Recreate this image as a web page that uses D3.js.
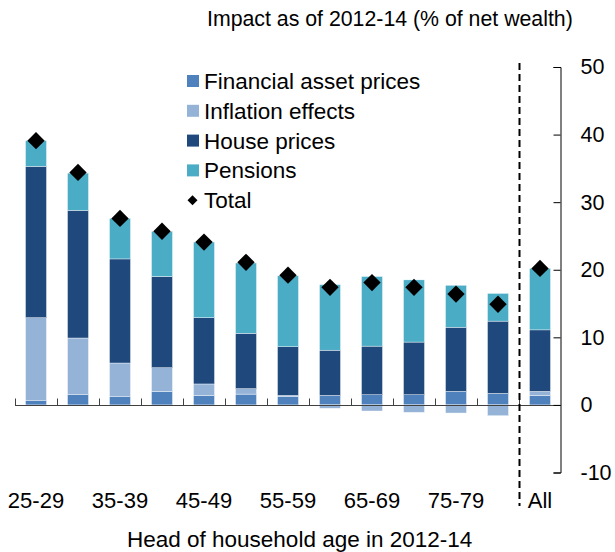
<!DOCTYPE html>
<html>
<head>
<meta charset="utf-8">
<script src="https://cdn.jsdelivr.net/npm/d3@7"></script>
<style>
  body { margin: 0; background: #fff; }
  svg { display: block; font-family: "Liberation Sans", Arial, sans-serif; }
</style>
</head>
<body>
<svg width="615" height="552"></svg>
<script>
// values (% of net wealth)
var categories = ["25-29", "30-34", "35-39", "40-44", "45-49", "50-54", "55-59",
                  "60-64", "65-69", "70-74", "75-79", "80+", "All"];
var shownLabels = ["25-29", "35-39", "45-49", "55-59", "65-69", "75-79", "All"];
var financial = [0.7, 1.5, 1.2, 2.0, 1.4, 1.6, 1.2, 1.4, 1.5, 1.5, 2.0, 1.7, 1.4];
var inflation = [12.2, 8.4, 5.0, 3.5, 1.7, 0.8, 0.2, -0.5, -0.9, -1.1, -1.2, -1.6, 0.6];
var house     = [22.4, 18.9, 15.4, 13.5, 9.8, 8.2, 7.2, 6.7, 7.2, 7.8, 9.5, 10.7, 9.1];
var pensions  = [3.8, 5.5, 6.0, 6.7, 11.2, 10.4, 10.5, 9.7, 10.3, 9.2, 6.2, 4.1, 9.1];
var total     = [39.1, 34.4, 27.6, 25.7, 24.1, 21.1, 19.2, 17.4, 18.1, 17.4, 16.4, 14.9, 20.2];
var yTicks = [-10, 0, 10, 20, 30, 40, 50];

var seriesNames = ["Financial asset prices", "Inflation effects", "House prices", "Pensions"];
var seriesKeys = ["financial", "inflation", "house", "pensions"];
var colors = ["#4f81bd", "#95b3d7", "#1f497d", "#4bacc6"];

var svg = d3.select("svg");

var rows = categories.map(function(c, i) {
  return {cat: c, financial: financial[i], inflation: inflation[i],
          house: house[i], pensions: pensions[i], total: total[i]};
});

var x = d3.scaleBand().domain(categories).range([15, 561])
    .paddingInner(0.5).paddingOuter(0.25);
var y = d3.scaleLinear().domain([-10, 50]).range([472.5, 67]);
var gap = (x.step() - x.bandwidth()) / 2;

var stack = d3.stack().keys(seriesKeys).offset(d3.stackOffsetDiverging)(rows);

// bars
svg.append("g").selectAll("g").data(stack).enter().append("g")
    .attr("fill", function(d, i) { return colors[i]; })
  .selectAll("rect").data(function(d) { return d; }).enter().append("rect")
    .attr("x", function(d) { return x(d.data.cat); })
    .attr("y", function(d) { return y(Math.max(d[0], d[1])); })
    .attr("width", x.bandwidth())
    .attr("height", function(d) { return Math.abs(y(d[0]) - y(d[1])); })
    .attr("stroke", "#fff")
    .attr("stroke-width", 0.4);

// x axis line with inward ticks at category boundaries
var xg = svg.append("g").attr("stroke", "#404040").attr("stroke-width", 1);
xg.append("line")
    .attr("x1", x.range()[0]).attr("x2", x.range()[1])
    .attr("y1", Math.round(y(0)) + 0.5).attr("y2", Math.round(y(0)) + 0.5);
xg.selectAll(".tick").data(categories).enter().append("line")
    .attr("x1", function(d) { return Math.round(x(d) - gap) + 0.5; })
    .attr("x2", function(d) { return Math.round(x(d) - gap) + 0.5; })
    .attr("y1", Math.round(y(0)) + 0.5)
    .attr("y2", Math.round(y(0)) - 6.5);

// category labels
svg.append("g").selectAll("text").data(shownLabels).enter().append("text")
    .attr("x", function(d) { return x(d) + x.bandwidth() / 2; })
    .attr("y", 508)
    .attr("text-anchor", "middle")
    .attr("font-size", "22px")
    .attr("fill", "#000")
    .text(function(d) { return d; });

// dashed separator before "All"
var sepX = Math.round(x("All") - gap) + 0.5;
svg.append("line")
    .attr("x1", sepX).attr("x2", sepX)
    .attr("y1", 63).attr("y2", 506)
    .attr("stroke", "#000")
    .attr("stroke-width", 2)
    .attr("stroke-dasharray", "7,4");

// y axis on the right (plain hyphen for negatives, like the original)
var yAxis = svg.append("g")
    .attr("transform", "translate(560.5,0)")
    .call(d3.axisRight(y).tickValues(yTicks).tickSize(-7).tickPadding(20)
      .tickFormat(function(d) { return String(d); }));
yAxis.select(".domain").attr("stroke", "#000");
yAxis.selectAll(".tick line").attr("stroke", "#000");
yAxis.selectAll(".tick text")
    .attr("font-size", "21.5px")
    .attr("font-family", "Liberation Sans, Arial, sans-serif")
    .attr("fill", "#000");

// totals
svg.append("g").selectAll("path").data(rows).enter().append("path")
    .attr("d", d3.symbol(d3.symbolSquare, 150))
    .attr("transform", function(d) {
      return "translate(" + (x(d.cat) + x.bandwidth() / 2) + "," + y(d.total) + ") rotate(45)";
    })
    .attr("fill", "#000");

// legend
var legend = svg.append("g").attr("font-size", "22.5px");
seriesNames.concat(["Total"]).forEach(function(name, i) {
  var cy = 81 + i * 29.8;
  if (i < 4) {
    legend.append("rect")
        .attr("x", 187).attr("y", cy - 6)
        .attr("width", 12).attr("height", 12)
        .attr("fill", colors[i]);
  } else {
    legend.append("path")
        .attr("d", d3.symbol(d3.symbolSquare, 50))
        .attr("transform", "translate(192.5," + cy + ") rotate(45)")
        .attr("fill", "#000");
  }
  legend.append("text")
      .attr("x", 204).attr("y", cy + 8)
      .attr("fill", "#000")
      .text(name);
});

// titles
svg.append("text")
    .attr("x", 207).attr("y", 26)
    .attr("font-size", "21.3px")
    .attr("fill", "#000")
    .text("Impact as of 2012-14 (% of net wealth)");

svg.append("text")
    .attr("x", 127).attr("y", 547)
    .attr("font-size", "22.5px")
    .attr("fill", "#000")
    .text("Head of household age in 2012-14");
</script>
</body>
</html>
